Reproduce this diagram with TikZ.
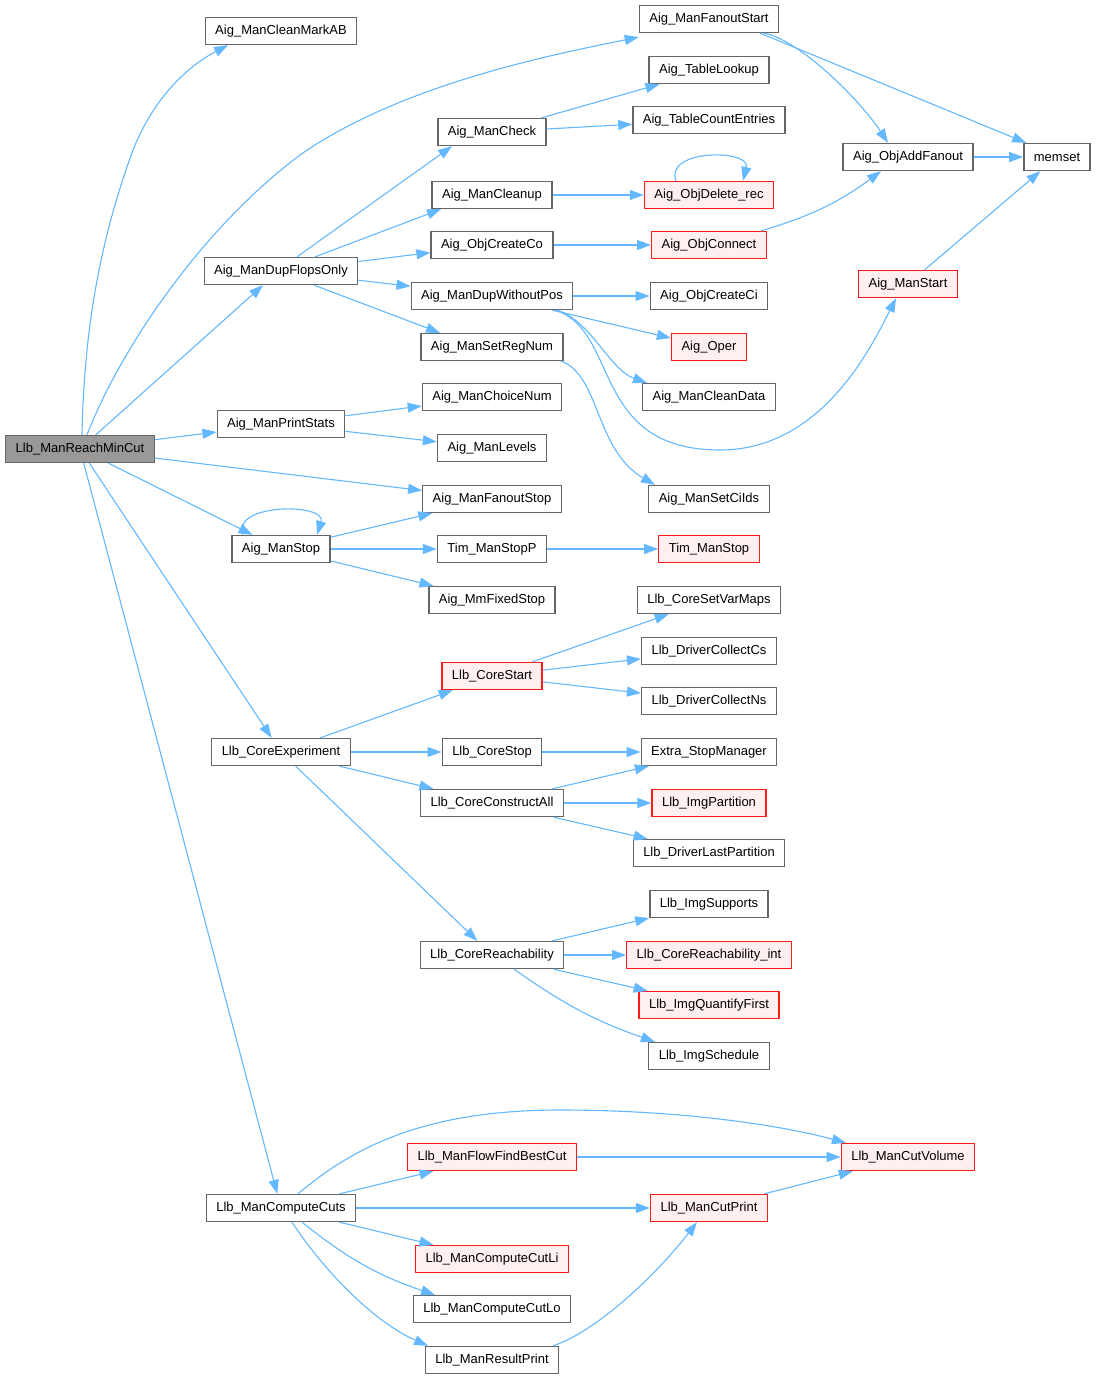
\documentclass[tikz,border=0pt]{standalone}
\usepackage{fontspec}
\setmainfont{Liberation Sans}
\usetikzlibrary{arrows.meta}
\definecolor{edgeblue}{HTML}{63B8FF}
\definecolor{boxgray}{HTML}{666666}
\definecolor{rootfill}{HTML}{999999}
\definecolor{redfill}{HTML}{FFF0F0}
\definecolor{redline}{HTML}{FF1A1A}

\begin{document}
\begin{tikzpicture}[x=1pt,y=-1pt,
    fn/.style={draw=boxgray,line width=1.3pt,fill=white,minimum height=27pt,inner xsep=10pt,inner ysep=0pt,font=\fontsize{13}{15}\selectfont},
    fnred/.style={fn,draw=redline,fill=redfill},
    fnroot/.style={fn,fill=rootfill},
    call/.style={draw=edgeblue,line width=1.1pt,-{Triangle[length=14pt,width=10pt]}}]
  \useasboundingbox (0,0) rectangle (1097,1379);

  \node[fnroot](reach) at (80,449){Llb\_ManReachMinCut};

  \node[fn](cleanmark) at (281,31){Aig\_ManCleanMarkAB};
  \node[fn](dupflops) at (281,271){Aig\_ManDupFlopsOnly};
  \node[fn](printstats) at (281,424){Aig\_ManPrintStats};
  \node[fn](manstop) at (281,549){Aig\_ManStop};
  \node[fn](coreexp) at (281,752){Llb\_CoreExperiment};
  \node[fn](computecuts) at (281,1208){Llb\_ManComputeCuts};

  \node[fn](mancheck) at (492,132){Aig\_ManCheck};
  \node[fn](mancleanup) at (492,195){Aig\_ManCleanup};
  \node[fn](objcreateco) at (492,245){Aig\_ObjCreateCo};
  \node[fn](dupwithout) at (492,296){Aig\_ManDupWithoutPos};
  \node[fn](setregnum) at (492,347){Aig\_ManSetRegNum};
  \node[fn](choicenum) at (492,397){Aig\_ManChoiceNum};
  \node[fn](levels) at (492,448){Aig\_ManLevels};
  \node[fn](fanoutstop) at (492,499){Aig\_ManFanoutStop};
  \node[fn](timstopp) at (492,549){Tim\_ManStopP};
  \node[fn](mmfixed) at (492,600){Aig\_MmFixedStop};
  \node[fnred](corestart) at (492,676){Llb\_CoreStart};
  \node[fn](corestop) at (492,752){Llb\_CoreStop};
  \node[fn](constructall) at (492,803){Llb\_CoreConstructAll};
  \node[fn](corereach) at (492,955){Llb\_CoreReachability};
  \node[fnred](flowbest) at (492,1157){Llb\_ManFlowFindBestCut};
  \node[fnred](cutli) at (492,1259){Llb\_ManComputeCutLi};
  \node[fn](cutlo) at (492,1309){Llb\_ManComputeCutLo};
  \node[fn](resultprint) at (492,1360){Llb\_ManResultPrint};

  \node[fn](fanoutstart) at (709,19){Aig\_ManFanoutStart};
  \node[fn](tablelookup) at (709,70){Aig\_TableLookup};
  \node[fn](tablecount) at (709,120){Aig\_TableCountEntries};
  \node[fnred](objdelete) at (709,195){Aig\_ObjDelete\_rec};
  \node[fnred](objconnect) at (709,245){Aig\_ObjConnect};
  \node[fn](objcreateci) at (709,296){Aig\_ObjCreateCi};
  \node[fnred](oper) at (709,347){Aig\_Oper};
  \node[fn](cleandata) at (709,397){Aig\_ManCleanData};
  \node[fn](setcioids) at (709,499){Aig\_ManSetCiIds};
  \node[fnred](timstop) at (709,549){Tim\_ManStop};
  \node[fn](setvarmaps) at (709,600){Llb\_CoreSetVarMaps};
  \node[fn](collectcs) at (709,651){Llb\_DriverCollectCs};
  \node[fn](collectns) at (709,701){Llb\_DriverCollectNs};
  \node[fn](extrastop) at (709,752){Extra\_StopManager};
  \node[fnred](imgpartition) at (709,803){Llb\_ImgPartition};
  \node[fn](lastpartition) at (709,853){Llb\_DriverLastPartition};
  \node[fn](imgsupports) at (709,904){Llb\_ImgSupports};
  \node[fnred](reachint) at (709,955){Llb\_CoreReachability\_int};
  \node[fnred](quantify) at (709,1005){Llb\_ImgQuantifyFirst};
  \node[fn](schedule) at (709,1056){Llb\_ImgSchedule};
  \node[fnred](cutprint) at (709,1208){Llb\_ManCutPrint};

  \node[fn](addfanout) at (908,157){Aig\_ObjAddFanout};
  \node[fnred](manstart) at (908,284){Aig\_ManStart};
  \node[fnred](cutvolume) at (908,1157){Llb\_ManCutVolume};
  \node[fn](memset) at (1057,157){memset};

  % calls of the root
  \draw[call] ([xshift=2pt]reach.north) .. controls (84,330) and (100,240) .. (133,150)
    .. controls (155,95) and (190,65) .. ([xshift=-53pt]cleanmark.south);
  \draw[call] ([xshift=7pt]reach.north) .. controls (120,350) and (200,230) .. (300,155)
    .. controls (400,85) and (550,55) .. ([yshift=-4pt]fanoutstart.south west);
  \draw[call] (reach) -- ([xshift=-18pt]dupflops.south);
  \draw[call] (reach) -- (printstats);
  \draw[call] (reach) -- (fanoutstop);
  \draw[call] (reach) -- (manstop);
  \draw[call] (reach) -- (coreexp);
  \draw[call] (reach) -- (computecuts);

  \draw[call] ([xshift=16pt]dupflops.north) -- ([xshift=-40pt]mancheck.south);
  \draw[call] ([xshift=34pt]dupflops.north) -- ([xshift=-51pt]mancleanup.south);
  \draw[call] (dupflops) -- (objcreateco);
  \draw[call] (dupflops) -- (dupwithout);
  \draw[call] ([xshift=33pt]dupflops.south) -- ([xshift=-52pt]setregnum.north);
  \draw[call] (mancheck) -- (tablelookup);
  \draw[call] (mancheck) -- (tablecount);
  \draw[call] (mancleanup) -- (objdelete);
  \draw[call] ([xshift=-33pt]objdelete.north) .. controls +(-12,-32) and +(8,-32) .. ([xshift=34pt]objdelete.north);
  \draw[call] (objcreateco) -- (objconnect);
  \draw[call] ([xshift=52pt]objconnect.north) to[bend right=10] ([xshift=-27pt]addfanout.south);
  \draw[call] (addfanout) -- (memset);
  \draw[call] ([xshift=51pt]fanoutstart.south) -- ([xshift=3pt]memset.north west);
  \draw[call] ([xshift=55pt]fanoutstart.south) .. controls (800,40) and (860,100) .. ([xshift=-20pt]addfanout.north);
  \draw[call] (manstart) -- (memset);

  \draw[call] (dupwithout) -- (objcreateci);
  \draw[call] (dupwithout) -- (oper);
  \draw[call] ([xshift=65pt]dupwithout.south) .. controls (590,320) and (610,370) .. ([xshift=-62pt]cleandata.north);
  \draw[call] ([xshift=63pt]dupwithout.south) .. controls (620,330) and (590,450) .. (720,450)
    .. controls (820,450) and (870,350) .. ([xshift=-12pt]manstart.south);
  \draw[call] ([xshift=69pt]setregnum.south) .. controls (600,375) and (595,450) .. ([xshift=-54pt]setcioids.north);

  \draw[call] (printstats) -- (choicenum);
  \draw[call] (printstats) -- (levels);
  \draw[call] ([xshift=-38pt]manstop.north) .. controls +(-12,-32) and +(10,-32) .. ([xshift=36pt]manstop.north);
  \draw[call] (manstop) -- (fanoutstop);
  \draw[call] (manstop) -- (timstopp);
  \draw[call] (manstop) -- (mmfixed);
  \draw[call] (timstopp) -- (timstop);

  \draw[call] (coreexp) -- (corestart);
  \draw[call] (coreexp) -- (corestop);
  \draw[call] (coreexp) -- (constructall);
  \draw[call] (coreexp) -- (corereach);
  \draw[call] (corestart) -- (setvarmaps);
  \draw[call] (corestart) -- (collectcs);
  \draw[call] (corestart) -- (collectns);
  \draw[call] (corestop) -- (extrastop);
  \draw[call] (constructall) -- (extrastop);
  \draw[call] (constructall) -- (imgpartition);
  \draw[call] (constructall) -- (lastpartition);
  \draw[call] (corereach) -- (imgsupports);
  \draw[call] (corereach) -- (reachint);
  \draw[call] (corereach) -- (quantify);
  \draw[call] ([xshift=22pt]corereach.south) to[bend right=8] ([xshift=-54pt]schedule.north);

  \draw[call] ([xshift=17pt]computecuts.north) .. controls (350,1150) and (420,1110) .. (560,1110)
    .. controls (680,1110) and (780,1125) .. ([xshift=-62pt]cutvolume.north);
  \draw[call] (computecuts) -- (flowbest);
  \draw[call] (computecuts) -- (cutprint);
  \draw[call] (computecuts) -- (cutli);
  \draw[call] ([xshift=21pt]computecuts.south) to[bend right=10] ([xshift=-57pt]cutlo.north);
  \draw[call] ([xshift=11pt]computecuts.south) .. controls (320,1265) and (370,1320) .. ([xshift=-64pt]resultprint.north);
  \draw[call] (flowbest) -- (cutvolume);
  \draw[call] (cutprint) -- (cutvolume);
  \draw[call] ([xshift=61pt]resultprint.north) .. controls (600,1330) and (660,1270) .. ([xshift=-12pt]cutprint.south);
\end{tikzpicture}
\end{document}
